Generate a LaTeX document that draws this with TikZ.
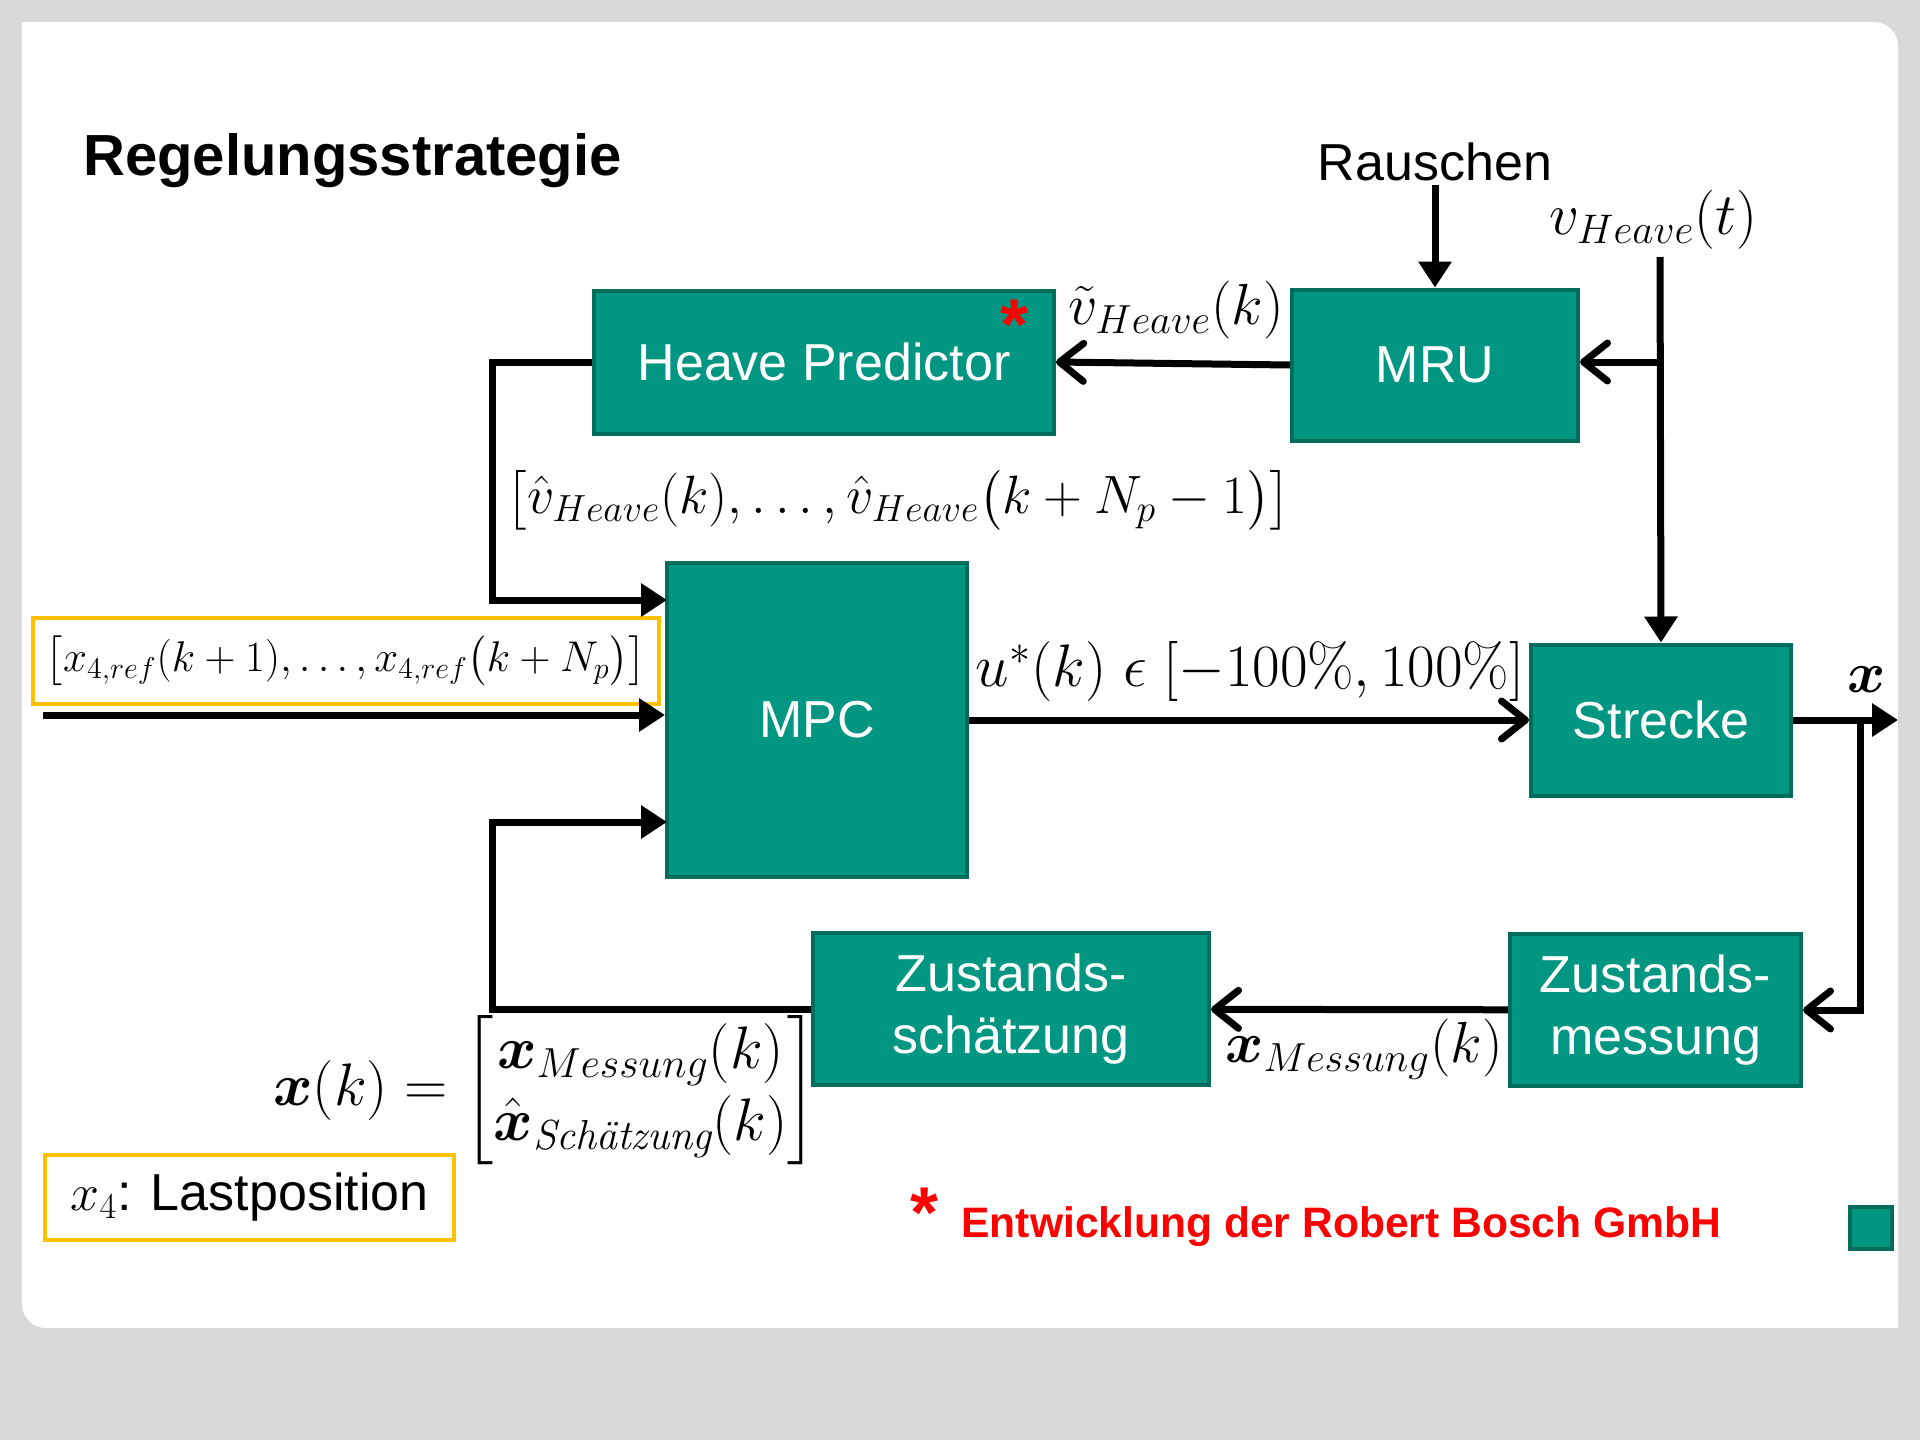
\RequirePackage{fix-cm}
\documentclass[tikz,border=0pt]{standalone}
\usepackage{amsmath}
\usepackage{fontspec}
\setsansfont{Liberation Sans}
\usetikzlibrary{arrows.meta}
\definecolor{kitgreen}{RGB}{0,150,130}
\definecolor{kitdark}{RGB}{0,108,92}
\definecolor{markyellow}{RGB}{255,192,0}
\definecolor{slidegray}{RGB}{217,217,217}

\begin{document}
\begin{tikzpicture}[x=0.5pt, y=-0.5pt,
  block/.style={draw=kitdark, line width=2pt, fill=kitgreen, text=white, align=center,
    inner sep=0pt, font=\sffamily\fontsize{26}{31}\selectfont},
  refbox/.style={draw=markyellow, line width=2.2pt, fill=white, inner sep=0pt},
  sig/.style={line width=3.5pt},
  chev/.style={sig, -{Straight Barb[length=12pt, width=19pt, round]}},
  tri/.style={sig, -{Triangle[length=13pt, width=16pt]}},
  lbl/.style={inner sep=1pt, font=\fontsize{29}{35}\selectfont},
  txt/.style={inner sep=2pt, font=\sffamily\fontsize{26}{31}\selectfont},
  star/.style={text=red, inner sep=0pt, font=\sffamily\bfseries\fontsize{36}{36}\selectfont}
]
\useasboundingbox (0,0) rectangle (1920,1440);
\fill[slidegray] (0,0) rectangle (1920,1440);
\fill[white, rounded corners=12pt] (22,22) rectangle (1898,1328);
\fill[white] (22,22) rectangle (100,100);
\fill[white] (1800,1250) rectangle (1898,1328);

\node[anchor=base west, inner sep=0pt, font=\sffamily\bfseries\fontsize{29}{35}\selectfont] (title) at (83,175) {Regelungsstrategie};

\node[block, minimum width=230pt, minimum height=71.5pt] (hp) at (824,362) {Heave Predictor};
\node[block, minimum width=143pt, minimum height=75.5pt] (mru) at (1435,365) {MRU};
\node[block, minimum width=150pt, minimum height=157pt] (mpc) at (817,720) {MPC};
\node[block, minimum width=130pt, minimum height=75.5pt] (strecke) at (1661,720) {Strecke};
\node[block, minimum width=198pt, minimum height=76pt] (zsch) at (1011,1009) {Zustands-\\schätzung};
\node[block, minimum width=145.5pt, minimum height=76pt] (zmes) at (1655.5,1010) {Zustands-\\messung};

\node[star] (star1) at (1014,325) {*};

\node[txt, anchor=base] (rausch) at (1435,180) {Rauschen};
\node[lbl, font=\fontsize{29.5}{35}\selectfont] (vt) at (1653,220) {$v_{Heave}(t)$};
\node[lbl] (vtil) at (1176,310) {$\tilde{v}_{Heave}(k)$};
\node[lbl, anchor=west, font=\fontsize{27}{38}\selectfont] (vhat) at (504,500) {$\bigl[\hat{v}_{Heave}(k),\ldots,\hat{v}_{Heave}\bigl(k+N_p-1\bigr)\bigr]$};
\node[refbox, minimum width=313pt, minimum height=43pt, font=\fontsize{21.5}{31}\selectfont] (ref) at (346,661)
  {$\bigl[x_{4,ref}(k+1),\ldots,x_{4,ref}\bigl(k+N_p\bigr)\bigr]$};
\node[lbl, font=\fontsize{30}{36}\selectfont] (uk) at (1250,671) {$u^{*}(k)\;\epsilon\;[-100\%,100\%]$};
\node[lbl] (xlab) at (1867,680) {$\boldsymbol{x}$};
\node[lbl] (xmes) at (1364,1049) {$\boldsymbol{x}_{Messung}(k)$};
\node[lbl, font=\fontsize{30}{36}\selectfont] (xk) at (545,1090) {$\boldsymbol{x}(k)=\begin{bmatrix}\boldsymbol{x}_{Messung}(k)\\ \hat{\boldsymbol{x}}_{\textit{Schätzung}}(k)\end{bmatrix}$};
\node[refbox, minimum width=204.5pt, minimum height=42.5pt, font=\sffamily\fontsize{26}{31}\selectfont] (lastpos) at (249.5,1197.5) {$x_4$: Lastposition};

\node[star] (star2) at (924,1213) {*};
\node[anchor=base west, inner sep=0pt, text=red, font=\sffamily\bfseries\fontsize{21.3}{25}\selectfont] (bosch) at (961,1237) {Entwicklung der Robert Bosch GmbH};
\node[draw=kitdark, line width=2pt, fill=kitgreen, minimum size=21pt, inner sep=0pt] (mark) at (1870.5,1227.5) {};

\coordinate (vtop) at (1660,257);
\coordinate (vbr) at (1660,362);
\coordinate (bendA) at (492,362);
\coordinate (bendB) at (492,1009);
\coordinate (mpcA) at (667,600);
\coordinate (mpcC) at (667,822);
\coordinate (refin) at (43,715);
\coordinate (xbr) at (1860,720);
\coordinate (xout) at (1898,720);

\draw[tri] (rausch) -- (mru);
\draw[tri] (vtop) -- (strecke.north);
\draw[chev] (vbr) -- (vbr -| mru.east);
\draw[chev] (mru.west) -- (hp.east);
\draw[tri] (hp.west) -- (bendA) |- (mpcA);
\draw[tri] (refin) -- (refin -| mpc.west);
\draw[chev] (mpc) -- (strecke);
\draw[tri] (strecke.east) -- (xout);
\draw[chev] (xbr) |- (zmes.east);
\draw[chev] (zmes) -- (zsch);
\draw[tri] (zsch.west) -- (bendB) |- (mpcC);
\end{tikzpicture}
\end{document}
